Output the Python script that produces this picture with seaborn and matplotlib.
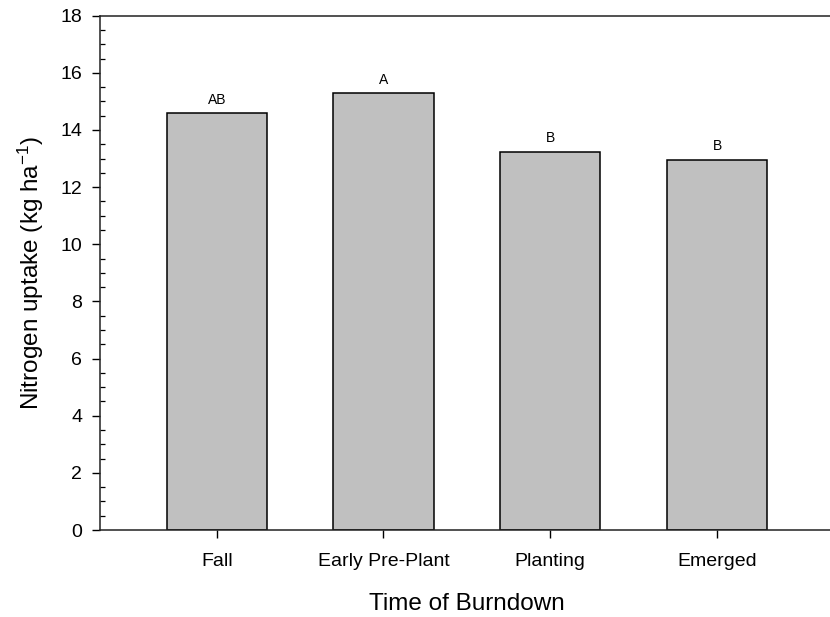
import matplotlib
matplotlib.use("Agg")
import matplotlib.pyplot as plt
from matplotlib.ticker import MultipleLocator
import seaborn as sns
import pandas as pd

# Nitrogen uptake by burndown timing
timings = ["Fall", "Early Pre-Plant", "Planting", "Emerged"]
uptake = [14.58, 15.28, 13.22, 12.95]
letters = ["AB", "A", "B", "B"]

sns.set_style("white")
plt.rcParams["font.family"] = ["Liberation Sans", "DejaVu Sans"]
plt.rcParams["mathtext.fontset"] = "custom"
plt.rcParams["mathtext.rm"] = "Liberation Sans"
plt.rcParams["mathtext.it"] = "Liberation Sans:italic"
plt.rcParams["text.color"] = "black"
plt.rcParams["axes.labelcolor"] = "black"
plt.rcParams["xtick.color"] = "black"
plt.rcParams["ytick.color"] = "black"

df = pd.DataFrame({"timing": timings, "uptake": uptake})

fig = plt.figure(figsize=(8.30, 6.17), dpi=100)
ax = fig.add_axes([0.1205, 0.141, 0.884, 0.8336])

sns.barplot(data=df, x="timing", y="uptake", color="#c0c0c0",
            saturation=1, edgecolor="black", linewidth=1.1, width=0.6, ax=ax)

for i, (v, lab) in enumerate(zip(uptake, letters)):
    ax.annotate(lab, (i, v), xytext=(0, 10), textcoords="offset points",
                ha="center", va="center", fontsize=10, color="black")

ax.set_xlim(-0.7, 3.7)
ax.set_ylim(0, 18)
ax.yaxis.set_major_locator(MultipleLocator(2))
ax.yaxis.set_minor_locator(MultipleLocator(0.5))

ax.tick_params(axis="both", which="major", direction="out", length=5.8,
               width=1.0, colors="black", labelsize=14)
ax.tick_params(axis="x", which="major", bottom=True, pad=11)
ax.tick_params(axis="y", which="major", left=True, pad=7)
ax.tick_params(axis="y", which="minor", direction="in", length=3.6,
               width=0.9, color="black", left=True)
ax.tick_params(axis="x", which="minor", bottom=False)
ax.tick_params(top=False, right=False)

for side in ["left", "bottom", "top", "right"]:
    ax.spines[side].set_visible(True)
    ax.spines[side].set_color("#222222")
    ax.spines[side].set_linewidth(1.1)

ax.set_xlabel("Time of Burndown", fontsize=17.5, labelpad=16)
ax.set_ylabel(r"Nitrogen uptake (kg ha$^{\mathregular{-1}}$)", fontsize=17.5, labelpad=10)

fig.savefig("out.png", dpi=100, facecolor="white")
